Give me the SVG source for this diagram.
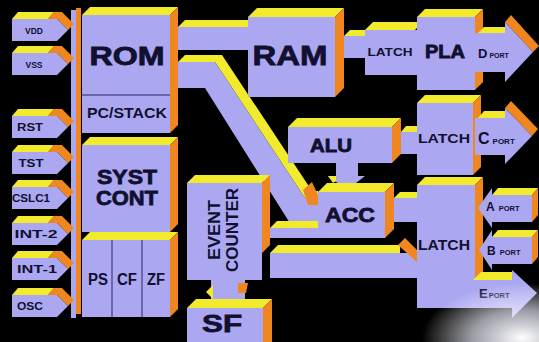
<svg xmlns="http://www.w3.org/2000/svg" width="539" height="342" viewBox="0 0 539 342">
<defs>
<radialGradient id="glare" cx="0.5" cy="0.5" r="0.5">
<stop offset="0" stop-color="#ffffff" stop-opacity="1"/>
<stop offset="0.5" stop-color="#eef0ff" stop-opacity="0.65"/>
<stop offset="1" stop-color="#ffffff" stop-opacity="0"/>
</radialGradient>
</defs>
<style>
.f{fill:#aba7f1}
.t{fill:#f2ea2c}
.s{fill:#ef8620}
.ln{stroke:#2a2660;stroke-width:1;fill:none}
text{font-family:"Liberation Sans",Arial,sans-serif;font-weight:bold;fill:#121030}
.b{stroke:#121030;stroke-width:0.8}
.m{text-anchor:middle}
</style>
<rect x="0" y="0" width="539" height="342" fill="#000"/>

<g id="connectors">
<polygon class="t" points="178,27 185,20 248,20 248,27"/>
<rect class="f" x="178" y="27" width="70" height="23"/>
<polygon class="t" points="178,62 185,55 222,55 312,191 318,191 318,198 305,198 215,62"/>
<polygon class="f" points="178,62 215,62 305,198 318,198 318,228 293,228 205,88 178,88"/>
<polygon class="s" points="303,190 312,182 318,195 318,205 308,205"/>
<polygon class="t" points="344,36 350,30 365,30 365,36"/>
<rect class="f" x="344" y="36" width="21" height="22"/>
<polygon class="t" points="401,132 406,126 417,126 417,132"/>
<rect class="f" x="401" y="132" width="16" height="22"/>
<polygon class="f" points="336,163 358,163 358,176 365,176 347,190 328,176 336,176"/>
<polygon class="t" points="328,176 336,176 336,181 333,183"/>
<polygon class="t" points="394,198 400,192 417,192 417,198"/>
<rect class="f" x="394" y="198" width="23" height="24"/>
<polygon class="t" points="270,228 277,221 318,221 318,228"/>
<rect class="f" x="270" y="228" width="48" height="10"/>
<polygon class="t" points="270,253 278,245 400,245 400,253"/>
<rect class="f" x="270" y="253" width="147" height="25"/>
<polygon class="s" points="398,245 405,238 417,250 417,262"/>
<rect class="f" x="211" y="280" width="34" height="19"/>
<polygon class="t" points="206,292 213,285 213,299"/>
<polygon class="s" points="238,283 248,283 246,293 238,293"/>
</g>

<g id="bus">
<rect class="f" x="71" y="10" width="5" height="308"/>
<rect class="s" x="76" y="8" width="5" height="306"/>
</g>

<g id="pin-vdd">
<polygon class="s" points="48,19 54,12 62,12 74,24 68,30 57,19"/>
<polygon class="t" points="12,19 18,12 54,12 48,19"/>
<polygon class="f" points="12,19 57,19 68,30 57,41 12,41"/>
<text x="34" y="33.5" class="m" font-size="8.5">VDD</text>
</g>
<g id="pin-vss">
<polygon class="s" points="48,53 54,46 62,46 74,58 68,64 57,53"/>
<polygon class="t" points="12,53 18,46 54,46 48,53"/>
<polygon class="f" points="12,53 57,53 68,64 57,75 12,75"/>
<text x="34" y="67.5" class="m" font-size="8.5">VSS</text>
</g>
<g id="pin-rst">
<polygon class="s" points="48,116 54,109 62,109 74,121 68,127 57,116"/>
<polygon class="t" points="12,116 18,109 54,109 48,116"/>
<polygon class="f" points="12,116 57,116 68,127 57,138 12,138"/>
<text x="30" y="131" class="m" font-size="11" textLength="26" lengthAdjust="spacingAndGlyphs">RST</text>
</g>
<g id="pin-tst">
<polygon class="s" points="48,152 54,145 62,145 74,157 68,163 57,152"/>
<polygon class="t" points="12,152 18,145 54,145 48,152"/>
<polygon class="f" points="12,152 57,152 68,163 57,174 12,174"/>
<text x="31" y="167" class="m" font-size="11" textLength="25" lengthAdjust="spacingAndGlyphs">TST</text>
</g>
<g id="pin-cslc1">
<polygon class="s" points="48,187 54,180 62,180 74,192 68,198 57,187"/>
<polygon class="t" points="12,187 18,180 54,180 48,187"/>
<polygon class="f" points="12,187 57,187 68,198 57,209 12,209"/>
<text x="31" y="202" class="m" font-size="11" textLength="38" lengthAdjust="spacingAndGlyphs">CSLC1</text>
</g>
<g id="pin-int2">
<polygon class="s" points="48,223 54,216 62,216 74,228 68,234 57,223"/>
<polygon class="t" points="12,223 18,216 54,216 48,223"/>
<polygon class="f" points="12,223 57,223 68,234 57,245 12,245"/>
<text x="36" y="238" class="m" font-size="11" textLength="43" lengthAdjust="spacingAndGlyphs">INT-2</text>
</g>
<g id="pin-int1">
<polygon class="s" points="48,258 54,251 62,251 74,263 68,269 57,258"/>
<polygon class="t" points="12,258 18,251 54,251 48,258"/>
<polygon class="f" points="12,258 57,258 68,269 57,280 12,280"/>
<text x="37" y="273" class="m" font-size="11" textLength="40" lengthAdjust="spacingAndGlyphs">INT-1</text>
</g>
<g id="pin-osc">
<polygon class="s" points="48,295 54,288 62,288 74,300 68,306 57,295"/>
<polygon class="t" points="12,295 18,288 54,288 48,295"/>
<polygon class="f" points="12,295 57,295 68,306 57,317 12,317"/>
<text x="30" y="310" class="m" font-size="11" textLength="26" lengthAdjust="spacingAndGlyphs">OSC</text>
</g>

<g id="rom">
<polygon class="t" points="82,15 90,7 178,7 170,15"/>
<polygon class="s" points="170,15 178,7 178,125 170,133"/>
<rect class="f" x="82" y="15" width="88" height="118"/>
<line class="ln" x1="82" y1="95" x2="170" y2="95"/>
<text x="127" y="65" class="m b" font-size="25" textLength="75" lengthAdjust="spacingAndGlyphs">ROM</text>
<text x="127" y="118" class="m" font-size="14" textLength="80" lengthAdjust="spacingAndGlyphs">PC/STACK</text>
</g>

<g id="syst-cont">
<polygon class="t" points="82,145 90,137 178,137 170,145"/>
<polygon class="s" points="170,145 178,137 178,224 170,232"/>
<rect class="f" x="82" y="145" width="88" height="87"/>
<text x="127" y="184" class="m b" font-size="20" textLength="60" lengthAdjust="spacingAndGlyphs">SYST</text>
<text x="127" y="205" class="m b" font-size="20" textLength="62" lengthAdjust="spacingAndGlyphs">CONT</text>
</g>

<g id="flags">
<polygon class="t" points="82,240 90,232 178,232 170,240"/>
<polygon class="s" points="170,240 178,232 178,309 170,317"/>
<rect class="f" x="82" y="240" width="88" height="77"/>
<line class="ln" x1="112" y1="240" x2="112" y2="317"/>
<line class="ln" x1="142" y1="240" x2="142" y2="317"/>
<text x="98" y="285" class="m" font-size="16" textLength="20" lengthAdjust="spacingAndGlyphs">PS</text>
<text x="127" y="285" class="m" font-size="16" textLength="20" lengthAdjust="spacingAndGlyphs">CF</text>
<text x="156" y="285" class="m" font-size="16" textLength="18" lengthAdjust="spacingAndGlyphs">ZF</text>
</g>

<g id="ram">
<polygon class="t" points="248,17 257,8 344,8 335,17"/>
<polygon class="s" points="335,17 344,8 344,88 335,97"/>
<rect class="f" x="248" y="17" width="87" height="80"/>
<text x="290" y="65" class="m b" font-size="28" textLength="75" lengthAdjust="spacingAndGlyphs">RAM</text>
</g>

<g id="latch-1">
<polygon class="t" points="365,30 373,22 423,22 415,30"/>
<rect class="f" x="365" y="30" width="52" height="45"/>
<text x="390" y="56" class="m" font-size="10.5" textLength="45" lengthAdjust="spacingAndGlyphs">LATCH</text>
</g>

<g id="pla">
<polygon class="t" points="417,17 425,9 483,9 475,17"/>
<polygon class="s" points="475,17 483,9 483,82 475,90"/>
<rect class="f" x="417" y="17" width="58" height="73"/>
<text x="445" y="58" class="m b" font-size="18" textLength="40" lengthAdjust="spacingAndGlyphs">PLA</text>
</g>

<g id="d-port">
<polygon class="s" points="505,22 511,15 539,46 533,52"/>
<polygon class="t" points="478,33 484,27 505,27 505,33"/>
<polygon class="f" points="475,33 505,33 505,22 533,52 505,82 505,72 475,72"/>
<text x="478" y="58" font-size="13">D<tspan font-size="7" dx="2">PORT</tspan></text>
</g>

<g id="alu">
<polygon class="t" points="288,127 297,118 401,118 392,127"/>
<polygon class="s" points="392,127 401,118 401,154 392,163"/>
<rect class="f" x="288" y="127" width="104" height="36"/>
<text x="331" y="152" class="m b" font-size="19" textLength="42" lengthAdjust="spacingAndGlyphs">ALU</text>
</g>

<g id="latch-2">
<polygon class="t" points="417,103 425,95 481,95 473,103"/>
<polygon class="s" points="473,103 481,95 481,167 473,175"/>
<rect class="f" x="417" y="103" width="56" height="72"/>
<text x="444" y="143" class="m" font-size="12.5" textLength="52" lengthAdjust="spacingAndGlyphs">LATCH</text>
</g>

<g id="c-port">
<polygon class="s" points="505,108 511,101 538,129 532,136"/>
<polygon class="t" points="478,118 484,111 505,111 505,118"/>
<polygon class="f" points="475,118 505,118 505,108 532,136 505,164 505,155 475,155"/>
<text x="478" y="144" font-size="16">C<tspan font-size="8" dx="3">PORT</tspan></text>
</g>

<g id="acc">
<polygon class="t" points="318,192 327,183 394,183 385,192"/>
<polygon class="s" points="385,192 394,183 394,229 385,238"/>
<rect class="f" x="318" y="192" width="67" height="46"/>
<text x="325" y="222" class="b" font-size="21" textLength="50" lengthAdjust="spacingAndGlyphs">ACC</text>
</g>

<g id="latch-3">
<polygon class="t" points="417,185 425,177 483,177 475,185"/>
<polygon class="s" points="475,185 483,177 483,300 475,308"/>
<rect class="f" x="417" y="185" width="58" height="123"/>
<text x="444" y="250" class="m" font-size="14" textLength="52" lengthAdjust="spacingAndGlyphs">LATCH</text>
</g>

<g id="a-port">
<polygon class="t" points="492,195 498,188 538,188 532,195"/>
<polygon class="s" points="532,195 538,188 538,215 532,222"/>
<polygon class="f" points="532,195 492,195 492,188 478,208 492,228 492,222 532,222"/>
<text x="486" y="211" font-size="12">A<tspan font-size="7.5" dx="4">PORT</tspan></text>
</g>

<g id="b-port">
<polygon class="t" points="492,237 498,230 538,230 532,237"/>
<polygon class="s" points="532,237 538,230 538,257 532,264"/>
<polygon class="f" points="532,237 492,237 492,230 479,250 492,270 492,264 532,264"/>
<text x="487" y="255" font-size="12">B<tspan font-size="7.5" dx="4">PORT</tspan></text>
</g>

<g id="e-port">
<polygon class="t" points="473,280 481,272 512,272 512,280"/>
<polygon class="f" points="473,280 512,280 512,270 537,293 512,318 512,308 473,308"/>
<text x="479" y="298" font-size="13">E<tspan font-size="7.5" dx="1">PORT</tspan></text>
</g>

<g id="event-counter">
<polygon class="t" points="187,183 195,175 270,175 262,183"/>
<polygon class="s" points="262,183 270,175 270,245 262,253"/>
<rect class="f" x="187" y="183" width="75" height="97"/>
<text transform="translate(220,230) rotate(-90)" class="m" font-size="16" textLength="60" lengthAdjust="spacingAndGlyphs">EVENT</text>
<text transform="translate(238,230) rotate(-90)" class="m" font-size="16" textLength="84" lengthAdjust="spacingAndGlyphs">COUNTER</text>
</g>

<g id="sf">
<polygon class="t" points="187,308 196,299 272,299 263,308"/>
<polygon class="s" points="263,308 272,299 272,342 263,342"/>
<rect class="f" x="187" y="308" width="76" height="34"/>
<text x="222" y="332" class="m b" font-size="24" textLength="40" lengthAdjust="spacingAndGlyphs">SF</text>
</g>

<ellipse cx="522" cy="338" rx="100" ry="55" fill="url(#glare)"/>
</svg>
